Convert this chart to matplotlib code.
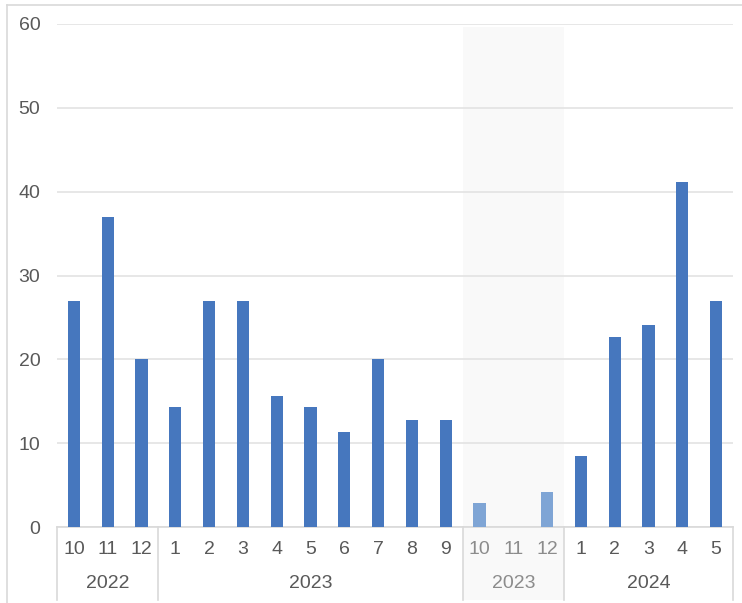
import matplotlib.pyplot as plt
from matplotlib.lines import Line2D
from matplotlib.patches import Rectangle

plt.rcParams['font.family'] = ['Liberation Sans', 'DejaVu Sans']

months = ['10', '11', '12', '1', '2', '3', '4', '5', '6', '7', '8', '9',
          '10', '11', '12', '1', '2', '3', '4', '5']
values = [27, 37, 20, 14.3, 27, 27, 15.6, 14.3, 11.3, 20, 12.8, 12.8,
          2.9, 0, 4.2, 8.5, 22.7, 24.1, 41.2, 27]
year_labels = ['2022', '2023', '2023', '2024']
year_starts = [0, 3, 12, 15]
year_ends = [3, 12, 15, 20]
faded_group = 2  # second 2023 block is drawn lighter on a grey band

DARK = '#4677BE'
LIGHT = '#7FA5D5'
TEXT = '#595959'
TEXT_FADED = '#8C8C8C'
GRID = '#E3E3E3'

fig = plt.figure(figsize=(7.42, 6.03), dpi=100)
ax = fig.add_axes([57 / 742, 76 / 603, 676 / 742, 503 / 603])

x = list(range(len(months)))
fs, fe = year_starts[faded_group], year_ends[faded_group]
colors = [LIGHT if fs <= i < fe else DARK for i in x]
ax.bar(x, values, width=0.36, color=colors, zorder=3)

# grey band behind the faded block, running down through the tick labels
band = Rectangle((fs - 0.5, -0.145), fe - fs, 1.14,
                 transform=ax.get_xaxis_transform(), facecolor='#F9F9F9',
                 edgecolor='none', zorder=0, clip_on=False)
ax.add_patch(band)

ax.set_xlim(-0.5, len(months) - 0.5)
ax.set_ylim(0, 60)
ax.set_yticks(range(0, 61, 10))
ax.yaxis.grid(True, color=GRID, linewidth=1.2, zorder=1)
ax.set_axisbelow(True)
ax.tick_params(axis='y', length=0, pad=12, labelsize=14, labelcolor=TEXT)
ax.set_xticks([])
for s in ['top', 'right', 'left']:
    ax.spines[s].set_visible(False)
ax.spines['bottom'].set_color('#D9D9D9')
ax.spines['bottom'].set_linewidth(1.2)

trans = ax.get_xaxis_transform()
for i, m in enumerate(months):
    c = TEXT_FADED if fs <= i < fe else TEXT
    ax.text(i, -0.044, m, transform=trans, ha='center', va='center',
            fontsize=14, color=c)

for g, (lab, a, b) in enumerate(zip(year_labels, year_starts, year_ends)):
    c = TEXT_FADED if g == faded_group else TEXT
    ax.text((a + b - 1) / 2, -0.112, lab, transform=trans, ha='center',
            va='center', fontsize=14, color=c)

# group separators below the axis
edges = sorted(set(year_starts + year_ends))
for e in edges:
    ax.plot([e - 0.5, e - 0.5], [0, -0.145], transform=trans, color='#D9D9D9',
            linewidth=1.2, clip_on=False)

# outer chart frame
fig.add_artist(Line2D([7 / 742, 7 / 742], [0, 1 - 5 / 603], color='#D9D9D9',
                      linewidth=1.2))
fig.add_artist(Line2D([7 / 742, 1], [1 - 5 / 603, 1 - 5 / 603], color='#D9D9D9',
                      linewidth=1.2))

fig.savefig('out.png', dpi=100)
